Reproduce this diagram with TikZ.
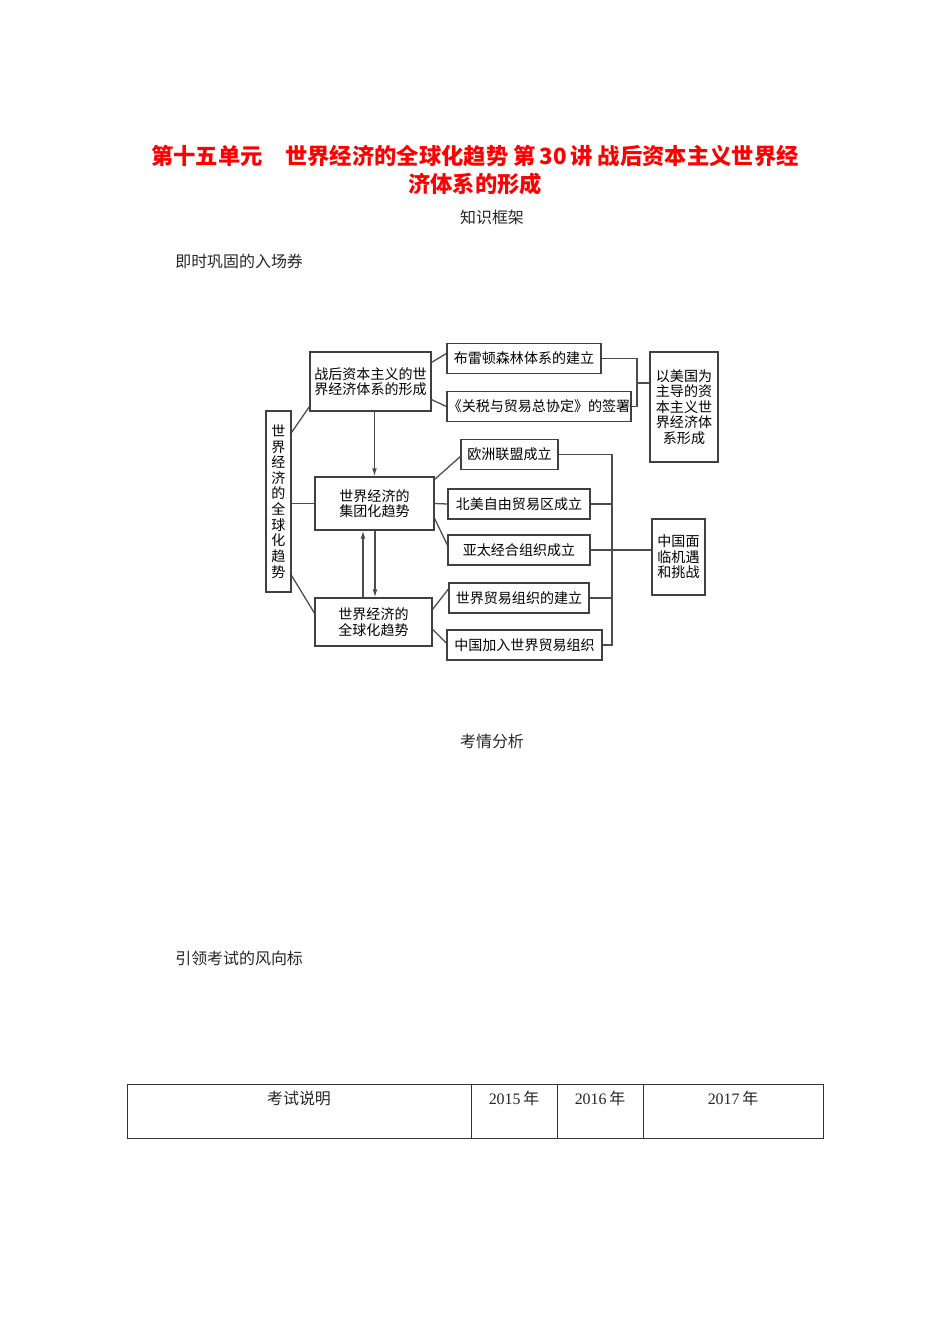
\documentclass[tikz,border=0pt]{standalone}
\usepackage{fontspec}
\setmainfont{Liberation Serif}
\newfontfamily\cjk{Noto Sans CJK SC}
\usetikzlibrary{arrows.meta, calc}
\newcommand\pw{0.627pt}

\begin{document}
\begin{tikzpicture}[x=0.627pt, y=-0.627pt,
    every node/.style={font=\cjk\fontsize{8.8}{9.8}\selectfont, inner sep=0pt},
    box/.style={draw=black!75, line width=0.8pt, align=center},
    link/.style={draw=black!70, line width=0.8pt},
    arr/.style={link, -{Latex[length=5pt, width=3pt]}},
    body/.style={font=\cjk\fontsize{10}{12}\selectfont, text=black!85}]
    \useasboundingbox (0,0) rectangle (950,1344);

    % Title
    \node[font=\cjk\bfseries\fontsize{14}{17.6}\selectfont, text=red, align=center] (title) at (475,170)
        {第十五单元\quad 世界经济的全球化趋势 第\,30\,讲 战后资本主义世界经\\济体系的形成};

    % Section heads
    \node[body] (frame) at (492,217) {知识框架};
    \node[body, anchor=west] (ticket) at (175,261) {即时巩固的入场券};
    \node[body] (analysis) at (492,741) {考情分析};
    \node[body, anchor=west] (vane) at (175,958) {引领考试的风向标};

    % Main boxes
    \node[box, minimum width=25*\pw, minimum height=181*\pw] (trend) at (278.5,501.5)
        {世\\界\\经\\济\\的\\全\\球\\化\\趋\\势};
    \node[box, minimum width=121*\pw, minimum height=59*\pw] (form) at (370.5,381.5)
        {战后资本主义的世\\界经济体系的形成};
    \node[box, minimum width=119*\pw, minimum height=53*\pw] (bloc) at (374.5,503.5)
        {世界经济的\\集团化趋势};
    \node[box, minimum width=117*\pw, minimum height=48*\pw] (glob) at (373.5,622)
        {世界经济的\\全球化趋势};

    % Event boxes
    \foreach \n/\x/\y/\w/\t in {b1/524/358.5/154/布雷顿森林体系的建立,
                                b2/539/406.5/184/《关税与贸易总协定》的签署,
                                e1/509.5/454.5/97/欧洲联盟成立,
                                e2/519/504/142/北美自由贸易区成立,
                                e3/519/550/142/亚太经合组织成立,
                                e4/519/598/140/世界贸易组织的建立,
                                e5/524.5/645/155/中国加入世界贸易组织} {
        \node[box, minimum width=\w*\pw, minimum height=30*\pw] (\n) at (\x,\y) {\t};
    }

    % Result boxes
    \node[box, minimum width=68*\pw, minimum height=110*\pw] (usa) at (684,407)
        {以美国为\\主导的资\\本主义世\\界经济体\\系形成};
    \node[box, minimum width=53*\pw, minimum height=76*\pw] (china) at (678.5,557)
        {中国面\\临机遇\\和挑战};

    % Links from the left
    \draw[link] ($(trend.north east)+(0,22)$) -- ($(form.south west)+(0,-5)$);
    \draw[link] (trend.east |- bloc.west) -- (bloc.west);
    \draw[link] ($(trend.south east)+(0,-17)$) -- ($(glob.west)+(0,-9)$);

    % Arrows between the main boxes
    \draw[arr] (form.south -| bloc.north) -- (bloc.north);
    \coordinate (up) at ($(glob.north)+(-10.5,0)$);
    \coordinate (down) at ($(glob.north)+(1.5,0)$);
    \draw[arr] (up) -- (up |- bloc.south);
    \draw[arr] (down |- bloc.south) -- (down);

    % Links to the events
    \draw[link] ($(form.north east)+(0,11)$) -- ($(b1.west)+(0,-5)$);
    \draw[link] ($(form.south east)+(0,-12)$) -- (b2.west);
    \draw[link] ($(bloc.north east)+(0,3)$) -- ($(e1.west)+(0,2)$);
    \draw[link] (bloc.east) -- (e2.west);
    \draw[link] ($(bloc.south east)+(0,-12)$) -- ($(e3.west)+(0,-5)$);
    \draw[link] ($(glob.north east)+(0,12)$) -- ($(e4.west)+(0,-9)$);
    \draw[link] ($(glob.north east)+(0,32)$) -- ($(e5.west)+(0,-2)$);

    % Brackets to the results
    \coordinate (k1) at (637,383);
    \draw[link] (b1.east) -| (k1) |- (b2.east);
    \draw[link] (k1) -- (k1 -| usa.west);
    \coordinate (k2) at (612,552);
    \draw[link] (e1.east) -| (k2 |- e5.east) -- (e5.east);
    \draw[link] (e2.east) -- (e2.east -| k2);
    \draw[link] (e4.east) -- (e4.east -| k2);
    \draw[link] (e3.east) -- (e3.east -| china.west);

    % Table
    \draw[black!80, line width=0.6pt] (127,1084) rectangle (823,1138);
    \foreach \x in {471,557,643} {
        \draw[black!80, line width=0.6pt] (\x,1084) -- (\x,1138);
    }
    \node[body] (exam) at (299,1098) {考试说明};
    \foreach \n/\x/\yr in {y15/514/2015, y16/600/2016, y17/733/2017} {
        \node[body] (\n) at (\x,1098) {{\rmfamily\yr}\,年};
    }
\end{tikzpicture}
\end{document}
